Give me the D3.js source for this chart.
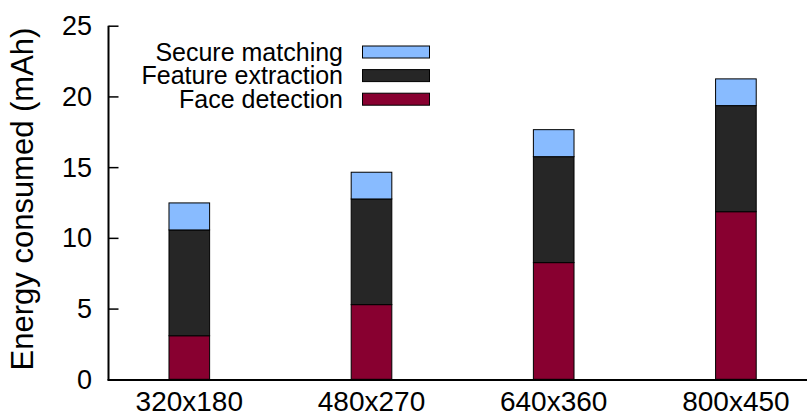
<!DOCTYPE html>
<html>
<head>
<meta charset="utf-8">
<script src="https://cdn.jsdelivr.net/npm/d3@7"></script>
<style>
  html, body { margin: 0; padding: 0; background: #fff; }
  svg { display: block; font-family: "Liberation Sans", Arial, sans-serif; }
</style>
</head>
<body>
<svg id="chart" width="807" height="417"></svg>
<script>
// Energy per stage of the face pipeline, by input resolution (mAh)
const resolutions = ["320x180", "480x270", "640x360", "800x450"];
const faceDetection = [3.08, 5.28, 8.25, 11.85];
const featureExtraction = [7.48, 7.47, 7.49, 7.50];
const secureMatching = [1.91, 1.89, 1.91, 1.89];
const stageNames = ["Face detection", "Feature extraction", "Secure matching"];
const stageColors = ["#880030", "#262626", "#88bbff"];
const yTicks = [0, 5, 10, 15, 20, 25];

const svg = d3.select("#chart");
const W = 807;

const rows = resolutions.map((r, i) => ({
  res: r,
  "Face detection": faceDetection[i],
  "Feature extraction": featureExtraction[i],
  "Secure matching": secureMatching[i]
}));
const stacked = d3.stack().keys(stageNames)(rows);

const y = d3.scaleLinear().domain([0, 25]).range([379.3, 25.7]);
const x = d3.scalePoint().domain(resolutions).range([98.2, 827]).padding(0.5);
const barW = x.step() * 0.223;
const axisX = 108.5;

// stacked bars
svg.append("g").selectAll("g")
  .data(stacked)
  .join("g")
  .attr("fill", (d, i) => stageColors[i])
  .selectAll("rect")
  .data(d => d)
  .join("rect")
  .attr("x", d => x(d.data.res) - barW / 2)
  .attr("y", d => y(d[1]))
  .attr("width", barW)
  .attr("height", d => y(d[0]) - y(d[1]))
  .attr("stroke", "#000")
  .attr("stroke-width", 1);

// y axis with inward ticks
const yAxis = d3.axisRight(y).tickValues(yTicks).tickSize(10).tickFormat("");
const gy = svg.append("g").attr("transform", `translate(${axisX},0)`).call(yAxis);
gy.select(".domain").remove();
gy.selectAll(".tick line").attr("stroke", "#000").attr("stroke-width", 1.5);

svg.append("g").selectAll("text")
  .data(yTicks)
  .join("text")
  .attr("x", 92)
  .attr("y", d => y(d) + 9.5)
  .attr("text-anchor", "end")
  .attr("font-size", 27)
  .attr("fill", "#000")
  .text(d => d);

// axis lines
svg.append("line")
  .attr("x1", axisX).attr("x2", axisX)
  .attr("y1", y(25)).attr("y2", y(0) + 1)
  .attr("stroke", "#000").attr("stroke-width", 2);
svg.append("line")
  .attr("x1", axisX - 1).attr("x2", W)
  .attr("y1", y(0) + 0.7).attr("y2", y(0) + 0.7)
  .attr("stroke", "#000").attr("stroke-width", 2);

// category labels
svg.append("g").selectAll("text")
  .data(resolutions)
  .join("text")
  .attr("x", d => x(d))
  .attr("y", 411)
  .attr("text-anchor", "middle")
  .attr("font-size", 28)
  .attr("fill", "#000")
  .text(d => d);

// y axis title
svg.append("text")
  .attr("transform", "translate(33,199) rotate(-90)")
  .attr("text-anchor", "middle")
  .attr("font-size", 31)
  .attr("fill", "#000")
  .text("Energy consumed (mAh)");

// legend (top entry is the top stack segment)
const legendOrder = [2, 1, 0];
const legend = svg.append("g").selectAll("g")
  .data(legendOrder)
  .join("g")
  .attr("transform", (d, i) => `translate(0,${52 + i * 23.6})`);
legend.append("text")
  .attr("x", 343)
  .attr("y", 8.5)
  .attr("text-anchor", "end")
  .attr("font-size", 25)
  .attr("fill", "#000")
  .text(d => stageNames[d]);
legend.append("rect")
  .attr("x", 362.5)
  .attr("y", -6)
  .attr("width", 67)
  .attr("height", 12)
  .attr("fill", d => stageColors[d])
  .attr("stroke", "#000")
  .attr("stroke-width", 1);
</script>
</body>
</html>
